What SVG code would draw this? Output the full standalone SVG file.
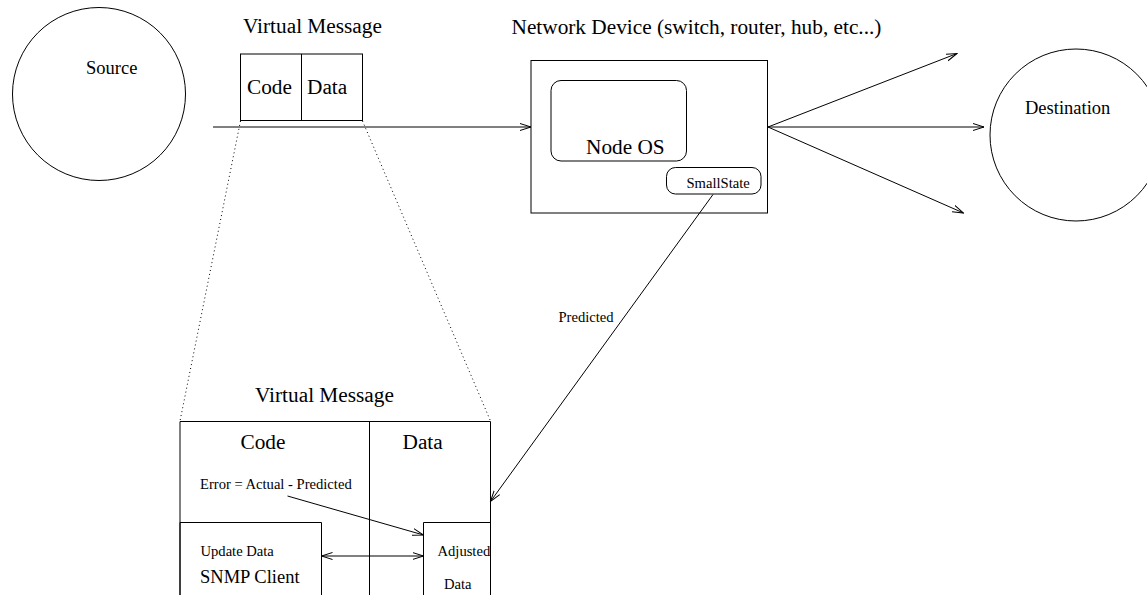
<svg xmlns="http://www.w3.org/2000/svg" width="1147" height="595" viewBox="0 0 1147 595">
<style>
text{font-family:"Liberation Serif","Times New Roman",serif;fill:#000}
.big{font-size:21.3px}
.mid{font-size:18.5px}
.sm{font-size:14.6px}
.ln{fill:none;stroke:#000;stroke-width:1}
.dot{fill:none;stroke:#000;stroke-width:1;stroke-dasharray:1 3}
</style>
<defs>
<marker id="ah" markerUnits="userSpaceOnUse" markerWidth="12" markerHeight="10" refX="11" refY="4" orient="auto-start-reverse">
<path d="M0,0.5 L11,4 L0,7.5" fill="none" stroke="#000" stroke-width="1"/>
</marker>
</defs>
<rect width="1147" height="595" fill="#fff"/>
<g id="source">
<circle class="ln" cx="99" cy="94" r="86.5"/>
<text class="mid" x="86" y="74">Source</text>
</g>
<g id="vm-top">
<text class="big" x="243" y="33">Virtual Message</text>
<rect class="ln" x="240.5" y="54" width="122" height="66.5"/>
<line class="ln" x1="301.5" y1="54" x2="301.5" y2="120.5"/>
<text class="big" x="247" y="94">Code</text>
<text class="big" x="307" y="94">Data</text>
</g>
<g id="network-device">
<text class="big" x="511.5" y="33.5">Network Device (switch, router, hub, etc...)</text>
<rect class="ln" x="531" y="60.5" width="236.5" height="152.5"/>
</g>
<g id="node-os">
<rect class="ln" x="551" y="80.5" width="135.5" height="80.5" rx="10"/>
<text class="big" x="586" y="154">Node OS</text>
</g>
<g id="smallstate">
<rect class="ln" x="666.5" y="167.5" width="94.5" height="26.5" rx="9"/>
<text class="sm" x="686.5" y="187.5">SmallState</text>
</g>
<g id="destination">
<circle class="ln" cx="1076" cy="135" r="86"/>
<text class="mid" x="1025" y="113.5">Destination</text>
</g>
<g id="vm-bottom">
<text class="big" x="255" y="401.5">Virtual Message</text>
<path class="ln" d="M180,620 V421.5 H490.5 V620"/>
<line class="ln" x1="369.5" y1="421.5" x2="369.5" y2="620"/>
<text class="big" x="240.5" y="449">Code</text>
<text class="big" x="402.5" y="449">Data</text>
<text class="sm" x="200" y="488.5">Error = Actual - Predicted</text>
</g>
<g id="snmp-client">
<path class="ln" d="M180,620 V522.5 H321.5 V620"/>
<text class="sm" x="200.5" y="555.5">Update Data</text>
<text class="mid" x="200" y="582.5">SNMP Client</text>
</g>
<g id="adjusted-data">
<path class="ln" d="M423.5,620 V522.5 H490.5"/>
<text class="sm" x="437.5" y="555.5">Adjusted</text>
<text class="sm" x="444" y="588.5">Data</text>
</g>
<g id="connectors">
<line class="ln" x1="213" y1="127" x2="531" y2="127" marker-end="url(#ah)"/>
<line class="ln" x1="768" y1="127" x2="957" y2="53.5" marker-end="url(#ah)"/>
<line class="ln" x1="768" y1="127" x2="984" y2="127" marker-end="url(#ah)"/>
<line class="ln" x1="768" y1="127" x2="963.5" y2="213" marker-end="url(#ah)"/>
<line class="dot" x1="240.5" y1="121" x2="180" y2="421"/>
<line class="dot" x1="362.5" y1="121" x2="490.5" y2="421"/>
<line class="ln" x1="713" y1="194.5" x2="490.5" y2="501.5" marker-end="url(#ah)"/>
<text class="sm" x="558.5" y="321.5">Predicted</text>
<line class="ln" x1="287.5" y1="496" x2="423.5" y2="535" marker-end="url(#ah)"/>
<line class="ln" x1="321.5" y1="556" x2="423.5" y2="556" marker-start="url(#ah)" marker-end="url(#ah)"/>
</g>
</svg>
